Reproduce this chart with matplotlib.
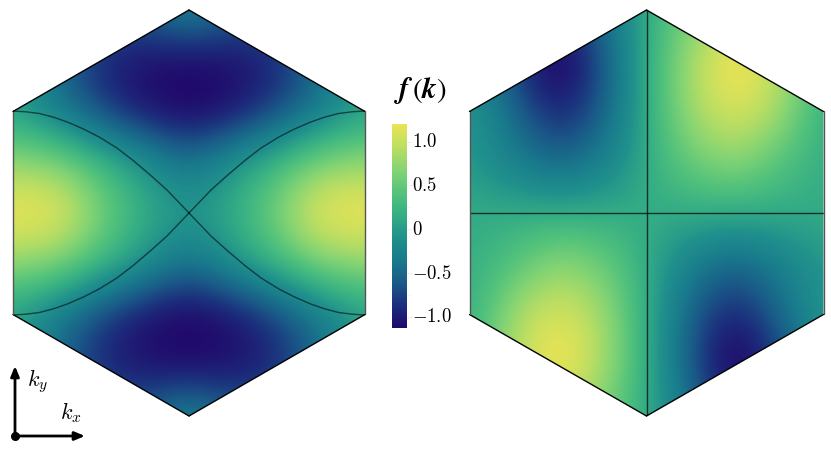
import numpy as np
import matplotlib
matplotlib.use("Agg")
import matplotlib.pyplot as plt
from matplotlib.patches import Polygon
from matplotlib.colors import LinearSegmentedColormap
from matplotlib.transforms import ScaledTranslation

plt.rcParams['mathtext.fontset'] = 'cm'
plt.rcParams['font.family'] = 'DejaVu Sans'

W, H = 831, 451
# sample positions of the field tables (kx across, ky down)
kx_samples = [-1, -.75, -.5, -.25, 0, .25, .5, .75, 1]
ky_samples = [1, .75, .5, .25, 0, -.25, -.5, -.75, -1]

field_left = [
    [0.00, -.25, -.55, -.50, -.15, -.50, -.55, -.25, 0.00],
    [0.10, -.50, -.95, -1.10, -1.15, -1.10, -.95, -.50, 0.10],
    [0.00, -.35, -.75, -1.08, -1.20, -1.08, -.75, -.35, 0.00],
    [0.75, 0.65, 0.28, -.05, -.45, -.05, 0.28, 0.65, 0.75],
    [1.28, 1.28, 0.65, 0.15, 0.00, 0.15, 0.65, 1.28, 1.28],
    [0.75, 0.65, 0.28, -.05, -.45, -.05, 0.28, 0.65, 0.75],
    [0.00, -.35, -.75, -1.08, -1.20, -1.08, -.75, -.35, 0.00],
    [0.10, -.50, -.95, -1.10, -1.15, -1.10, -.95, -.50, 0.10],
    [0.00, -.25, -.55, -.50, -.15, -.50, -.55, -.25, 0.00],
]
field_right = [
    [-.10, -.45, -.90, -.45, 0.15, 0.60, 0.90, 0.60, 0.15],
    [-.20, -.80, -1.35, -.65, 0.15, 0.88, 1.38, 0.95, 0.25],
    [0.00, -.50, -1.00, -.60, 0.15, 0.85, 1.15, 0.85, 0.15],
    [-.02, -.30, -.55, -.30, 0.15, 0.55, 0.75, 0.40, 0.15],
    [0.15, 0.15, 0.15, 0.15, 0.15, 0.15, 0.15, 0.15, 0.15],
    [0.15, 0.40, 0.75, 0.55, 0.15, -.30, -.55, -.30, -.02],
    [0.15, 0.85, 1.15, 0.85, 0.15, -.60, -1.00, -.50, 0.00],
    [0.25, 0.95, 1.38, 0.88, 0.15, -.65, -1.35, -.80, -.20],
    [0.15, 0.60, 0.90, 0.60, 0.15, -.45, -.90, -.45, -.10],
]
# nodal curve of the left panel, one arm
nodal_kx = [1.00, 0.93, 0.85, 0.77, 0.69, 0.60, 0.51, 0.41, 0.32, 0.22, 0.125, 0.00]
nodal_ky = [0.580, 0.576, 0.566, 0.545, 0.517, 0.478, 0.432, 0.370, 0.301, 0.216, 0.131, 0.00]

vmin, vmax = -1.13, 1.20
cbar_ticks = [-1.0, -0.5, 0, 0.5, 1.0]
cbar_minor = [-.75, -.25, .25, .75]
cbar_labels = [r'$-1.0$', r'$-0.5$', r'$0$', r'$0.5$', r'$1.0$']
cmap_colors = ['#21086b', '#1c2e7c', '#1a5a88', '#197a8c', '#20908c', '#35ae85',
               '#55c37b', '#85d473', '#bbde63', '#ebe453']

cmap = LinearSegmentedColormap.from_list('field', cmap_colors)

fig = plt.figure(figsize=(W / 100, H / 100), dpi=100)

def px_axes(x0, y0, x1, y1):
    return fig.add_axes([x0 / W, 1 - y1 / H, (x1 - x0) / W, (y1 - y0) / H])

scale = 2 / np.sqrt(3)
hex_x = np.array([0, 1, 1, 0, -1, -1])
hex_y = np.array([1, .5, -.5, -1, -.5, .5]) * scale

def panel(box, field):
    ax = px_axes(*box)
    dx = (kx_samples[1] - kx_samples[0]) / 2
    dy = abs(ky_samples[1] - ky_samples[0]) / 2 * scale
    im = ax.imshow(field, cmap=cmap, vmin=vmin, vmax=vmax,
                   interpolation='bicubic', aspect='auto',
                   extent=[-1 - dx, 1 + dx, -scale - dy, scale + dy])
    hexagon = Polygon(np.c_[hex_x, hex_y], closed=True, fc='none', ec='none')
    ax.add_patch(hexagon)
    im.set_clip_path(hexagon)
    for i in range(6):
        j = (i + 1) % 6
        vertical = hex_x[i] == hex_x[j]
        ax.plot(hex_x[[i, j]], hex_y[[i, j]], color='#555555' if vertical else 'black',
                lw=1.0, zorder=5, clip_on=False, solid_capstyle='round')
    ax.set_xlim(-1, 1)
    ax.set_ylim(-scale, scale)
    ax.axis('off')
    return ax, im

ax_l, im_l = panel((13, 10, 365, 416), field_left)
ax_r, im_r = panel((469.5, 10, 823.5, 416), field_right)

nx, ny = np.array(nodal_kx), np.array(nodal_ky)
for sx in (-1, 1):
    for sy in (-1, 1):
        ax_l.plot(sx * nx, sy * ny, color='black', alpha=0.55, lw=1.0, zorder=4)
ax_r.plot([0, 0], [-scale, scale], color='black', alpha=0.7, lw=1.0, zorder=4)
ax_r.plot([-1, 1], [0, 0], color='black', alpha=0.7, lw=1.0, zorder=4)

cax = px_axes(392, 124, 407, 328)
cb = fig.colorbar(im_l, cax=cax, ticks=cbar_ticks)
cb.ax.set_yticklabels(cbar_labels, fontsize=13.5)
cb.ax.set_yticks(cbar_minor, minor=True)
cb.ax.tick_params(which='major', length=3.5, width=0.5, color='#e4e4e4', pad=0)
cb.ax.tick_params(which='minor', length=2.5, width=0.5, color='#eeeeee')
cb.outline.set_visible(False)
shift = ScaledTranslation(0, 1.8 / 100, fig.dpi_scale_trans)
for lab in cb.ax.get_yticklabels():
    lab.set_transform(lab.get_transform() + shift)

fig.text(420 / W, 1 - 90 / H, r'$\mathbfit{f}\,(\mathbfit{k})$', fontsize=21,
         ha='center', va='center', math_fontfamily='stix')

overlay = fig.add_axes([0, 0, 1, 1], facecolor='none')
overlay.set_xlim(0, W)
overlay.set_ylim(H, 0)
overlay.axis('off')
arrow = dict(arrowstyle='-|>,head_width=0.25,head_length=0.6', color='black', lw=2,
             shrinkA=0, shrinkB=0)
overlay.annotate('', xy=(15, 366), xytext=(15, 436), arrowprops=arrow)
overlay.annotate('', xy=(85, 436), xytext=(15, 436), arrowprops=arrow)
overlay.plot([15], [436], 'o', color='black', ms=5.5)
overlay.text(38, 381, r'$k_y$', fontsize=16, ha='center', va='center')
overlay.text(71, 413, r'$k_x$', fontsize=16, ha='center', va='center')

fig.savefig('out.png', dpi=100)
